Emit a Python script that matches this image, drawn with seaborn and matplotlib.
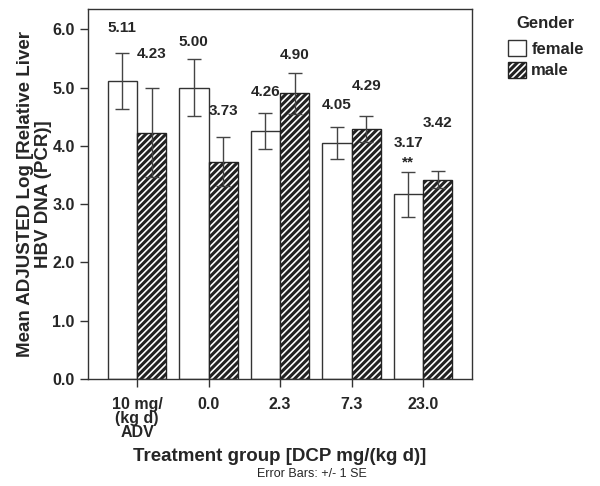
import numpy as np
import pandas as pd
import matplotlib
matplotlib.use('Agg')
import matplotlib.pyplot as plt
import seaborn as sns
from matplotlib.patches import Patch

# data
groups = ['10 mg/\n(kg d)\nADV', '0.0', '2.3', '7.3', '23.0']
genders = ['female', 'male']
female_mean = [5.11, 5.00, 4.26, 4.05, 3.17]
male_mean = [4.23, 3.73, 4.90, 4.29, 3.42]
female_se = [0.48, 0.49, 0.31, 0.28, 0.39]
male_se = [0.77, 0.42, 0.36, 0.22, 0.15]
female_lbl = ['5.11', '5.00', '4.26', '4.05', '3.17']
male_lbl = ['4.23', '3.73', '4.90', '4.29', '3.42']

# label heights (layout only)
female_lbl_y = [6.02, 5.79, 4.92, 4.70, 4.05]
male_lbl_y = [5.57, 4.60, 5.56, 5.02, 4.40]

sns.set_style('white')
plt.rcParams['font.family'] = ['Liberation Sans', 'DejaVu Sans']
plt.rcParams['hatch.linewidth'] = 2.2
plt.rcParams['hatch.color'] = 'black'

df = pd.DataFrame({
    'group': groups * 2,
    'Gender': ['female'] * 5 + ['male'] * 5,
    'mean': female_mean + male_mean,
})

fig = plt.figure(figsize=(6, 4.86), dpi=100)
ax = fig.add_axes([0.1467, 0.2202, 0.64, 0.7613])

sns.barplot(data=df, x='group', y='mean', hue='Gender', order=groups,
            hue_order=genders, palette=['white', 'white'], errorbar=None,
            width=0.82, edgecolor='#333333', linewidth=1.0, ax=ax, legend=False)

n = len(groups)
for i, p in enumerate(ax.patches[:2 * n]):
    if i >= n:
        p.set_hatch('/////')
        p.set_edgecolor('#222222')

ses = female_se + male_se
lbls = female_lbl + male_lbl
lbl_y = female_lbl_y + male_lbl_y
for i, p in enumerate(ax.patches[:2 * n]):
    cx = p.get_x() + p.get_width() / 2
    h = p.get_height()
    ax.errorbar(cx, h, yerr=ses[i], fmt='none', ecolor='#444444',
                elinewidth=1.0, capsize=5, capthick=1.0, zorder=5)
    ax.text(cx, lbl_y[i], lbls[i], ha='center', va='center',
            fontsize=11, fontweight='bold')

# significance mark under the 23.0 female label
p23 = ax.patches[n - 1]
ax.text(p23.get_x() + p23.get_width() / 2, female_lbl_y[-1] - 0.33, '**',
        ha='center', va='center', fontsize=11, fontweight='bold')

ax.set_xlim(-0.685, 4.685)
ax.set_ylim(0, 6.35)
ax.set_yticks(np.arange(0, 7, 1.0))
ax.set_yticklabels([f'{v:.1f}' for v in np.arange(0, 7, 1.0)])
for s in ax.spines.values():
    s.set_visible(True)
    s.set_color('#333333')
    s.set_linewidth(1.0)
ax.tick_params(axis='both', direction='out', length=6, width=1.0,
               color='#333333', labelsize=11.5, left=True, bottom=True)
ax.tick_params(axis='x', pad=7)
for t in ax.get_xticklabels() + ax.get_yticklabels():
    t.set_fontweight('bold')
for t in ax.get_xticklabels():
    t.set_linespacing(0.92)

ax.set_xlabel('Treatment group [DCP mg/(kg d)]', fontsize=13.5,
              fontweight='bold', labelpad=6)
ax.set_ylabel('Mean ADJUSTED Log [Relative Liver\nHBV DNA (PCR)]',
              fontsize=13.5, fontweight='bold', linespacing=1.08, labelpad=0)
fig.text(0.52, 0.024, 'Error Bars: +/- 1 SE', ha='center', va='center',
         fontsize=9)

# legend with its title drawn separately
fig.text(545 / 600, 1 - 24 / 486, 'Gender', ha='center', va='center',
         fontsize=12, fontweight='bold')
handles = [Patch(facecolor='white', edgecolor='#333333', label='female'),
           Patch(facecolor='white', edgecolor='#222222', hatch='/////', label='male')]
leg = fig.legend(handles=handles, loc='upper left',
                 bbox_to_anchor=(508 / 600, 1 - 40 / 486), frameon=False,
                 fontsize=12, handlelength=1.1, handleheight=1.1,
                 handletextpad=0.3, labelspacing=0.3, borderaxespad=0,
                 borderpad=0)
for t in leg.get_texts():
    t.set_fontweight('bold')

fig.savefig('out.png', dpi=100)
